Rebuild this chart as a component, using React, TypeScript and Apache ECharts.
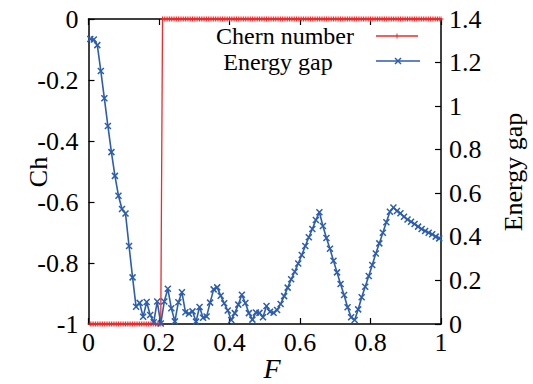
import React, { useEffect, useRef } from "react";
import * as echarts from "echarts";

// Sampling grid of the energy gap (F)
const gapF = [
  0.005, 0.015, 0.025, 0.035, 0.045, 0.055, 0.065, 0.075, 0.085, 0.095,
  0.105, 0.115, 0.125, 0.135, 0.145, 0.155, 0.165, 0.175, 0.185, 0.195,
  0.205, 0.215, 0.225, 0.235, 0.245, 0.255, 0.265, 0.275, 0.285, 0.295,
  0.305, 0.315, 0.325, 0.335, 0.345, 0.355, 0.365, 0.375, 0.385, 0.395,
  0.405, 0.415, 0.425, 0.435, 0.445, 0.455, 0.465, 0.475, 0.485, 0.495,
  0.505, 0.515, 0.525, 0.535, 0.545, 0.555, 0.565, 0.575, 0.585, 0.595,
  0.605, 0.615, 0.625, 0.635, 0.645, 0.655, 0.665, 0.675, 0.685, 0.695,
  0.705, 0.715, 0.725, 0.735, 0.745, 0.755, 0.765, 0.775, 0.785, 0.795,
  0.805, 0.815, 0.825, 0.835, 0.845, 0.855, 0.865, 0.875, 0.885, 0.895,
  0.905, 0.915, 0.925, 0.935, 0.945, 0.955, 0.965, 0.975, 0.985, 0.995,
];

const energyGap = [
  1.308, 1.306, 1.28, 1.161, 1.036, 0.909, 0.789, 0.68, 0.589, 0.528,
  0.507, 0.358, 0.214, 0.079, 0.097, 0.033, 0.101, 0.041, 0.008, 0.103,
  0.002, 0.103, 0.162, 0.072, 0.012, 0.1, 0.146, 0.054, 0.047, 0.058,
  0.011, 0.078, 0.029, 0.034, 0.098, 0.159, 0.168, 0.13, 0.095, 0.062,
  0.018, 0.05, 0.089, 0.134, 0.096, 0.05, 0.02, 0.053, 0.051, 0.031,
  0.083, 0.056, 0.052, 0.064, 0.092, 0.128, 0.167, 0.205, 0.24, 0.278,
  0.317, 0.358, 0.398, 0.436, 0.477, 0.513, 0.45, 0.395, 0.345, 0.29,
  0.237, 0.184, 0.133, 0.077, 0.031, 0.018, 0.067, 0.123, 0.171, 0.22,
  0.271, 0.324, 0.37, 0.419, 0.467, 0.515, 0.535, 0.519, 0.508, 0.492,
  0.48, 0.469, 0.459, 0.447, 0.436, 0.427, 0.419, 0.412, 0.401, 0.393,
];

// Sampling grid of the Chern number (F)
const chernF = [
  0.005, 0.01, 0.015, 0.02, 0.025, 0.03, 0.035, 0.04, 0.045, 0.05,
  0.055, 0.06, 0.065, 0.07, 0.075, 0.08, 0.085, 0.09, 0.095, 0.1,
  0.105, 0.11, 0.115, 0.12, 0.125, 0.13, 0.135, 0.14, 0.145, 0.15,
  0.155, 0.16, 0.165, 0.17, 0.175, 0.18, 0.185, 0.19, 0.195, 0.2,
  0.205, 0.21, 0.215, 0.22, 0.225, 0.23, 0.235, 0.24, 0.245, 0.25,
  0.255, 0.26, 0.265, 0.27, 0.275, 0.28, 0.285, 0.29, 0.295, 0.3,
  0.305, 0.31, 0.315, 0.32, 0.325, 0.33, 0.335, 0.34, 0.345, 0.35,
  0.355, 0.36, 0.365, 0.37, 0.375, 0.38, 0.385, 0.39, 0.395, 0.4,
  0.405, 0.41, 0.415, 0.42, 0.425, 0.43, 0.435, 0.44, 0.445, 0.45,
  0.455, 0.46, 0.465, 0.47, 0.475, 0.48, 0.485, 0.49, 0.495, 0.5,
  0.505, 0.51, 0.515, 0.52, 0.525, 0.53, 0.535, 0.54, 0.545, 0.55,
  0.555, 0.56, 0.565, 0.57, 0.575, 0.58, 0.585, 0.59, 0.595, 0.6,
  0.605, 0.61, 0.615, 0.62, 0.625, 0.63, 0.635, 0.64, 0.645, 0.65,
  0.655, 0.66, 0.665, 0.67, 0.675, 0.68, 0.685, 0.69, 0.695, 0.7,
  0.705, 0.71, 0.715, 0.72, 0.725, 0.73, 0.735, 0.74, 0.745, 0.75,
  0.755, 0.76, 0.765, 0.77, 0.775, 0.78, 0.785, 0.79, 0.795, 0.8,
  0.805, 0.81, 0.815, 0.82, 0.825, 0.83, 0.835, 0.84, 0.845, 0.85,
  0.855, 0.86, 0.865, 0.87, 0.875, 0.88, 0.885, 0.89, 0.895, 0.9,
  0.905, 0.91, 0.915, 0.92, 0.925, 0.93, 0.935, 0.94, 0.945, 0.95,
  0.955, 0.96, 0.965, 0.97, 0.975, 0.98, 0.985, 0.99, 0.995, 1.0,
];

const chernNumber = [
  -1, -1, -1, -1, -1, -1, -1, -1, -1, -1,
  -1, -1, -1, -1, -1, -1, -1, -1, -1, -1,
  -1, -1, -1, -1, -1, -1, -1, -1, -1, -1,
  -1, -1, -1, -1, -1, -1, -1, -1, -1, -1,
  -1, 0, 0, 0, 0, 0, 0, 0, 0, 0,
  0, 0, 0, 0, 0, 0, 0, 0, 0, 0,
  0, 0, 0, 0, 0, 0, 0, 0, 0, 0,
  0, 0, 0, 0, 0, 0, 0, 0, 0, 0,
  0, 0, 0, 0, 0, 0, 0, 0, 0, 0,
  0, 0, 0, 0, 0, 0, 0, 0, 0, 0,
  0, 0, 0, 0, 0, 0, 0, 0, 0, 0,
  0, 0, 0, 0, 0, 0, 0, 0, 0, 0,
  0, 0, 0, 0, 0, 0, 0, 0, 0, 0,
  0, 0, 0, 0, 0, 0, 0, 0, 0, 0,
  0, 0, 0, 0, 0, 0, 0, 0, 0, 0,
  0, 0, 0, 0, 0, 0, 0, 0, 0, 0,
  0, 0, 0, 0, 0, 0, 0, 0, 0, 0,
  0, 0, 0, 0, 0, 0, 0, 0, 0, 0,
  0, 0, 0, 0, 0, 0, 0, 0, 0, 0,
  0, 0, 0, 0, 0, 0, 0, 0, 0, 0,
];

const seriesNames = ["Chern number", "Energy gap"];
const axisTitles = { x: "F", left: "Ch", right: "Energy gap" };

const RED = "#ee2a2a";
const BLUE = "#2c5dae";
const FONT_FAMILY = "Liberation Serif";
const PLUS = "path://M5,0L5,10M0,5L10,5";
const CROSS = "path://M0,0L10,10M10,0L0,10";

const axisLineStyle = { color: "#000", width: 1.5 };

export default function App() {
  const ref = useRef<HTMLDivElement>(null);

  useEffect(() => {
    document.body.style.margin = "0";
    if (!ref.current) return;
    const chart = echarts.init(ref.current, null, { renderer: "svg" });

    const tickLabel = { color: "#000", fontFamily: FONT_FAMILY, fontSize: 26 };
    const tick = { show: true, inside: true, length: 6, lineStyle: { color: "#000", width: 1.2 } };
    const titleStyle = { fontFamily: FONT_FAMILY, fontSize: 26, fill: "#000", align: "center", verticalAlign: "middle" };
    const legendText = { fontFamily: FONT_FAMILY, fontSize: 24, fill: "#000", align: "center", verticalAlign: "middle" };

    const option: any = {
      animation: false,
      backgroundColor: "#ffffff",
      textStyle: { fontFamily: FONT_FAMILY },
      grid: {
        left: 88.5,
        right: 92,
        top: 19,
        bottom: 60,
        containLabel: false,
        outerBoundsMode: "none",
      },
      xAxis: [
        {
          type: "value",
          min: 0,
          max: 1,
          interval: 0.2,
          position: "bottom",
          axisLine: { show: true, onZero: false, lineStyle: axisLineStyle },
          axisTick: tick,
          axisLabel: { ...tickLabel, margin: 5 },
          splitLine: { show: false },
        },
        {
          type: "value",
          min: 0,
          max: 1,
          interval: 0.2,
          position: "top",
          axisLine: { show: true, onZero: false, lineStyle: axisLineStyle },
          axisTick: tick,
          axisLabel: { show: false },
          splitLine: { show: false },
        },
      ],
      yAxis: [
        {
          type: "value",
          min: -1,
          max: 0,
          interval: 0.2,
          position: "left",
          axisLine: { show: true, onZero: false, lineStyle: axisLineStyle },
          axisTick: tick,
          axisLabel: { ...tickLabel, margin: 10 },
          splitLine: { show: false },
        },
        {
          type: "value",
          min: 0,
          max: 1.4,
          interval: 0.2,
          position: "right",
          axisLine: { show: true, onZero: false, lineStyle: axisLineStyle },
          axisTick: tick,
          axisLabel: { ...tickLabel, margin: 8 },
          splitLine: { show: false },
        },
      ],
      series: [
        {
          name: seriesNames[0],
          type: "line",
          xAxisIndex: 0,
          yAxisIndex: 0,
          data: chernF.map((f, i) => [f, chernNumber[i]]),
          symbol: PLUS,
          symbolSize: 5,
          showSymbol: true,
          clip: false,
          lineStyle: { color: RED, width: 1.3 },
          itemStyle: { color: RED, borderColor: RED, borderWidth: 1 },
          z: 3,
        },
        {
          name: seriesNames[1],
          type: "line",
          xAxisIndex: 0,
          yAxisIndex: 1,
          data: gapF.map((f, i) => [f, energyGap[i]]),
          symbol: CROSS,
          symbolSize: 6,
          showSymbol: true,
          clip: false,
          lineStyle: { color: BLUE, width: 1.6 },
          itemStyle: { color: BLUE, borderColor: BLUE, borderWidth: 1.5 },
          z: 4,
        },
      ],
      graphic: [
        { type: "text", x: 285, y: 36, style: { text: seriesNames[0], ...legendText } },
        { type: "line", shape: { x1: 376, y1: 36, x2: 418, y2: 36 }, style: { stroke: RED, lineWidth: 1.5 } },
        { type: "line", shape: { x1: 397, y1: 33.5, x2: 397, y2: 38.5 }, style: { stroke: RED, lineWidth: 1 } },
        { type: "text", x: 278, y: 61.5, style: { text: seriesNames[1], ...legendText } },
        { type: "line", shape: { x1: 376, y1: 61, x2: 420, y2: 61 }, style: { stroke: BLUE, lineWidth: 1.6 } },
        { type: "line", shape: { x1: 395, y1: 58, x2: 401, y2: 64 }, style: { stroke: BLUE, lineWidth: 1.4 } },
        { type: "line", shape: { x1: 401, y1: 58, x2: 395, y2: 64 }, style: { stroke: BLUE, lineWidth: 1.4 } },
        { type: "text", x: 38, y: 172, rotation: Math.PI / 2, style: { text: axisTitles.left, ...titleStyle } },
        { type: "text", x: 513, y: 172, rotation: Math.PI / 2, style: { text: axisTitles.right, ...titleStyle } },
        {
          type: "text",
          x: 272,
          y: 368,
          style: { text: axisTitles.x, ...titleStyle, fontSize: 28, fontStyle: "italic" },
        },
      ],
    };

    chart.setOption(option);
    return () => chart.dispose();
  }, []);

  return <div ref={ref} style={{ width: 533, height: 384 }} />;
}
